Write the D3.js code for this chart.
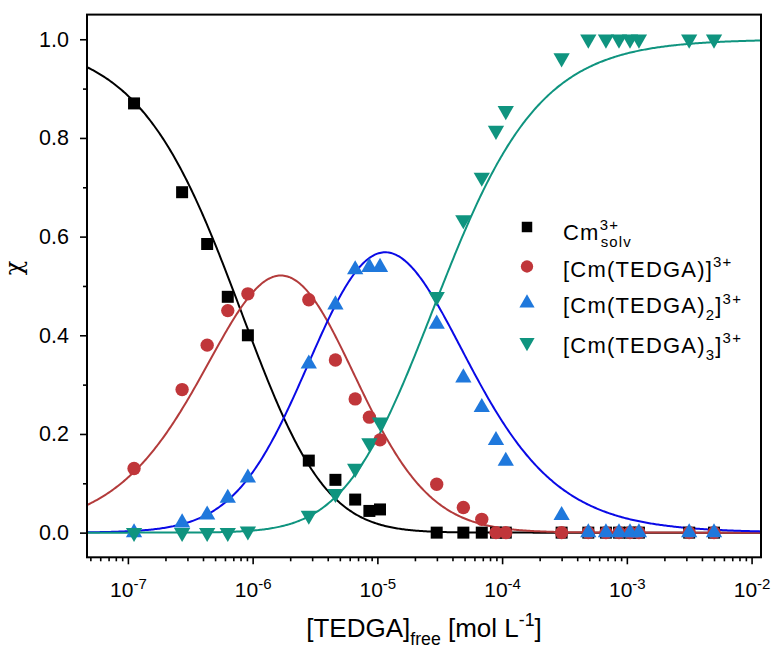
<!DOCTYPE html>
<html>
<head>
<meta charset="utf-8">
<script src="https://cdn.jsdelivr.net/npm/d3@7"></script>
<style>
  body { margin: 0; background: #fff; }
  svg { font-family: "Liberation Sans", Arial, sans-serif; }
</style>
</head>
<body>
<svg class="chart"></svg>
<script>
// measured concentrations of free TEDGA (mol/L), shared by all species
let conc = [1.12e-7, 2.72e-7, 4.32e-7, 6.32e-7, 9.16e-7, 2.82e-6, 4.61e-6, 6.64e-6, 8.63e-6, 1.05e-5,
  2.99e-5, 4.89e-5, 6.87e-5, 8.93e-5, 1.07e-4, 3.0e-4, 4.91e-4, 6.8e-4, 8.65e-4, 1.06e-3, 1.25e-3, 3.16e-3, 5.0e-3];

// species fractions
let cmSolv = [0.87, 0.69, 0.585, 0.478, 0.40, 0.146, 0.107, 0.067, 0.044, 0.047,
  0, 0, 0, 0, 0, 0, 0, 0, 0, 0, 0, 0, 0];
let cmL1 = [0.13, 0.29, 0.38, 0.45, 0.484, 0.472, 0.35, 0.271, 0.234, 0.188,
  0.098, 0.051, 0.027, 0, 0, 0, 0, 0, 0, 0, 0, 0, 0];
let cmL2 = [0, 0.02, 0.036, 0.07, 0.111, 0.342, 0.462, 0.533, 0.538, 0.538,
  0.423, 0.314, 0.254, 0.187, 0.145, 0.035, 0, 0, 0, 0, 0, 0, 0];
let cmL3 = [0, 0, 0, 0, 0.003, 0.035, 0.079, 0.13, 0.182, 0.224,
  0.478, 0.634, 0.72, 0.815, 0.855, 0.962, 1, 1, 1, 1, 1, 1, 1];

// cumulative stability constants of the fitted model, log beta1..3
let logBeta = [6.1, 11.5, 16.03];

let yMajor = [0, 0.2, 0.4, 0.6, 0.8, 1.0];
let yMinor = [0.1, 0.3, 0.5, 0.7, 0.9];

let pointColors = ['#000000', '#c0363a', '#1f78dc', '#0f947f'];
let lineColors = ['#000000', '#b33b3b', '#0a0ae6', '#0f947f'];

//basic graph info
let svg_width = 771;
let svg_height = 648;
let margin_left = 87;
let margin_top = 14.6;
let chart_width = 674;
let chart_height = 542.7;

let svg = d3.select('.chart')
  .attr('width', svg_width)
  .attr('height', svg_height);

let scaleX = d3.scaleLog()
  .domain([4.7e-8, 1.19e-2])
  .range([0, chart_width]);

let scaleY = d3.scaleLinear()
  .domain([-0.05, 1.05])
  .range([chart_height, 0]);

let plot = svg.append('g')
  .attr('transform', translate(margin_left, margin_top));

plot.append('clipPath')
  .attr('id', 'clip')
  .append('rect')
  .attr('width', chart_width)
  .attr('height', chart_height);

// fitted speciation curves
let logL = d3.range(-7.5, -1.8, 0.01);
function fractions(lg) {
  let terms = [1].concat(logBeta.map((b, i) => Math.pow(10, b + (i + 1) * lg)));
  let sum = d3.sum(terms);
  return terms.map(t => t / sum);
}
let curves = [0, 1, 2, 3].map(k => logL.map(lg => [Math.pow(10, lg), fractions(lg)[k]]));

let line = d3.line()
  .x(d => scaleX(d[0]))
  .y(d => scaleY(d[1]));

plot.append('g')
  .attr('clip-path', 'url(#clip)')
  .selectAll('path')
  .data(curves)
  .enter()
  .append('path')
  .attr('d', line)
  .attr('fill', 'none')
  .attr('stroke', (d, i) => lineColors[i])
  .attr('stroke-width', 2);

// markers
let series = [cmSolv, cmL1, cmL2, cmL3];
let symbols = [
  d3.symbol().type(d3.symbolSquare).size(144),
  d3.symbol().type(d3.symbolCircle).size(140),
  d3.symbol().type(d3.symbolTriangle).size(115),
  d3.symbol().type(d3.symbolTriangle).size(115)
];
let rotations = [0, 0, 0, 180];

series.forEach((values, k) => {
  plot.append('g')
    .selectAll('path')
    .data(values)
    .enter()
    .append('path')
    .attr('d', symbols[k])
    .attr('transform', (d, i) => translate(scaleX(conc[i]), scaleY(d)) + ' rotate(' + rotations[k] + ')')
    .attr('fill', pointColors[k]);
});

// axes
let xMajor = scaleX.ticks().filter(v => Math.abs(Math.log10(v) - Math.round(Math.log10(v))) < 1e-6);
let xMinor = scaleX.ticks().filter(v => xMajor.indexOf(v) < 0);

let axisX = d3.axisBottom(scaleX).tickValues(xMajor).tickSize(7).tickFormat('');
let axisXMinor = d3.axisBottom(scaleX).tickValues(xMinor).tickSize(4).tickFormat('');
let axisY = d3.axisLeft(scaleY).tickValues(yMajor).tickSize(7).tickPadding(11).tickFormat(d3.format('.1f'));
let axisYMinor = d3.axisLeft(scaleY).tickValues(yMinor).tickSize(4).tickFormat('');

let gx = plot.append('g')
  .attr('transform', translate(0, chart_height))
  .call(axisX);
plot.append('g')
  .attr('transform', translate(0, chart_height))
  .call(axisXMinor);
plot.append('g').call(axisY);
plot.append('g').call(axisYMinor);

plot.selectAll('.domain').remove();
plot.selectAll('.tick line').attr('stroke', '#000').attr('stroke-width', 1.6);
plot.selectAll('.tick text').attr('fill', '#000').style('font-size', '21.5px')
  .style('font-family', '"Liberation Sans", Arial, sans-serif');

// 10^n labels
gx.selectAll('.tick text').each(function(d) {
  let t = d3.select(this).text(null).attr('y', 40).attr('dy', 0).style('font-size', '21px');
  t.append('tspan').text('10');
  t.append('tspan').attr('dy', -8.5).style('font-size', '15px').text(Math.round(Math.log10(d)));
});

// frame
plot.append('rect')
  .attr('width', chart_width)
  .attr('height', chart_height)
  .attr('fill', 'none')
  .attr('stroke', '#000')
  .attr('stroke-width', 2);

// rich text helper: parts of [text, 'sup' | 'sub' | null]
function richText(sel, parts, size) {
  let shift = 0;
  parts.forEach(p => {
    let target = p[1] === 'sup' ? -0.42 * size : p[1] === 'sub' ? 0.32 * size : 0;
    sel.append('tspan')
      .attr('dy', target - shift)
      .style('font-size', (p[1] ? 0.68 * size : size) + 'px')
      .text(p[0]);
    shift = target;
  });
}

// legend
let legendLabels = [
  [['Cm', null], ['3+', 'sup'], ['solv', 'sub']],
  [['[Cm(TEDGA)]', null], ['3+', 'sup']],
  [['[Cm(TEDGA)', null], ['2', 'sub'], [']', null], ['3+', 'sup']],
  [['[Cm(TEDGA)', null], ['3', 'sub'], [']', null], ['3+', 'sup']]
];
let legendY = [227, 266.5, 303, 342.5];
let legendSymbols = [
  d3.symbol().type(d3.symbolSquare).size(110),
  d3.symbol().type(d3.symbolCircle).size(120),
  d3.symbol().type(d3.symbolTriangle).size(100),
  d3.symbol().type(d3.symbolTriangle).size(100)
];
let legendSize = 22;

legendLabels.forEach((parts, k) => {
  svg.append('path')
    .attr('d', legendSymbols[k])
    .attr('transform', translate(527, legendY[k]) + ' rotate(' + rotations[k] + ')')
    .attr('fill', pointColors[k]);
  let txt = svg.append('text')
    .attr('x', 563)
    .attr('y', legendY[k] + (k === 0 ? 13 : 10))
    .style('font-size', legendSize + 'px')
    .style('letter-spacing', '1.2px')
    .attr('fill', '#000');
  if (k === 0) {
    // stacked super- and subscript
    let base = txt.append('tspan').text(parts[0][0]);
    let w = base.node().getComputedTextLength();
    txt.append('tspan').attr('dy', -0.45 * legendSize).style('font-size', 0.68 * legendSize + 'px').text(parts[1][0]);
    txt.append('tspan').attr('x', 563 + w + 1).attr('dy', 0.75 * legendSize).style('font-size', 0.68 * legendSize + 'px').text(parts[2][0]);
  } else {
    richText(txt, parts, legendSize);
  }
});

// axis titles
let xTitle = svg.append('text')
  .attr('x', margin_left + chart_width / 2)
  .attr('y', 637)
  .attr('text-anchor', 'middle')
  .style('font-size', '26px')
  .attr('fill', '#000');
richText(xTitle, [['[TEDGA]', null], ['free', 'sub'], [' [mol L', null], ['-1', 'sup'], [']', null]], 26);

svg.append('text')
  .attr('transform', translate(22, 268) + ' rotate(-90)')
  .attr('text-anchor', 'middle')
  .style('font-size', '24px')
  .style('font-family', '"DejaVu Serif", serif')
  .attr('fill', '#000')
  .text('χ');

function translate(x, y) {
  return 'translate(' + x + ',' + y + ')';
}
</script>
</body>
</html>
